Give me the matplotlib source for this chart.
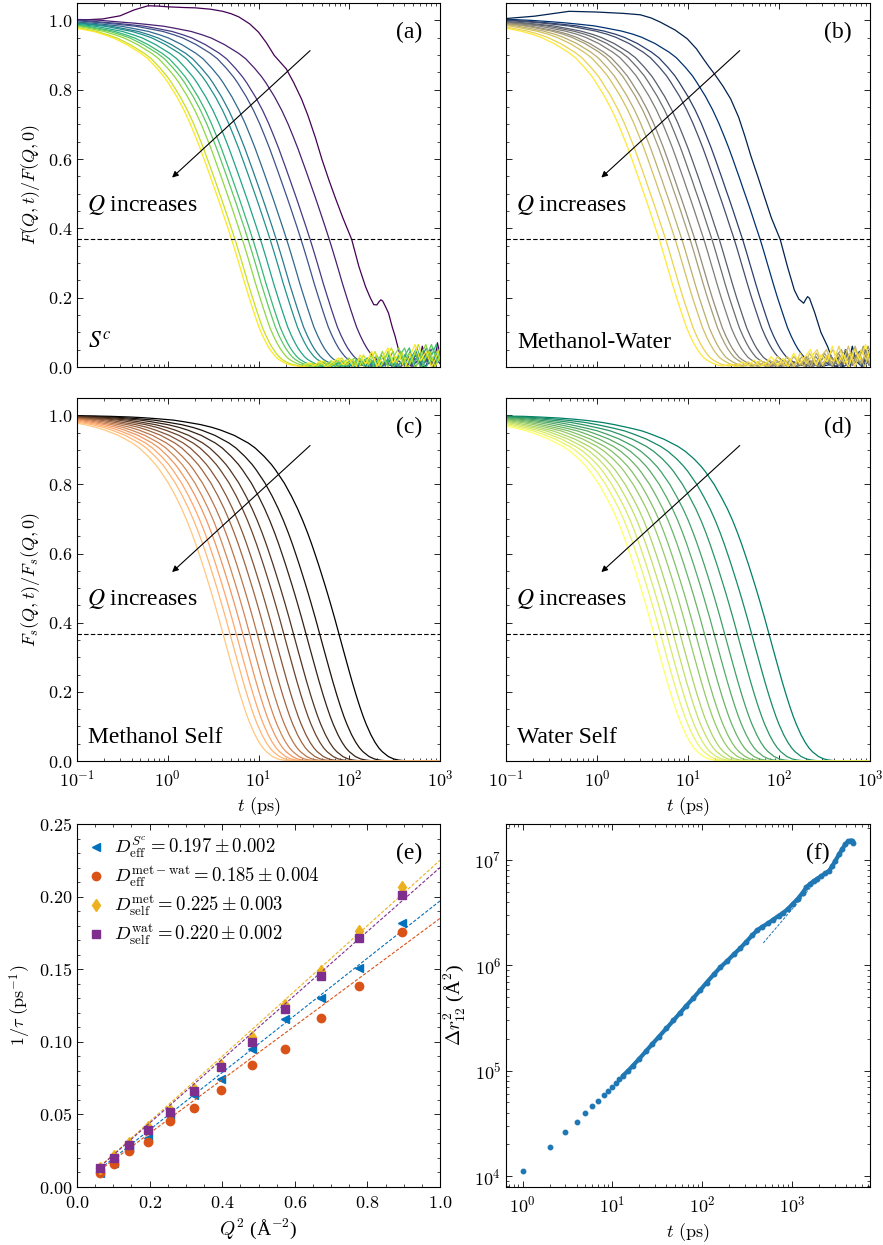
import matplotlib
matplotlib.use("Agg")
import matplotlib.pyplot as plt
from matplotlib.ticker import AutoMinorLocator
import numpy as np

plt.rcParams.update({
    "font.family": "cmr10",
    "mathtext.fontset": "cm",
    "axes.formatter.use_mathtext": True,
    "axes.linewidth": 0.8,
    "xtick.direction": "in",
    "ytick.direction": "in",
    "xtick.top": True,
    "ytick.right": True,
    "xtick.major.size": 4,
    "ytick.major.size": 4,
    "xtick.minor.size": 2,
    "ytick.minor.size": 2,
    "xtick.major.width": 0.6,
    "ytick.major.width": 0.6,
    "xtick.minor.width": 0.5,
    "ytick.minor.width": 0.5,
    "xtick.major.pad": 5.5,
    "xtick.minor.visible": True,
    "ytick.minor.visible": True,
    "xtick.labelsize": 13,
    "ytick.labelsize": 13,
    "axes.labelsize": 13,
})

# Q^2 grid (A^-2); the last one sits just past the plotted range in (e)
q2 = [0.064, 0.101, 0.142, 0.195, 0.255, 0.321, 0.397, 0.482, 0.572, 0.672, 0.778, 0.894, 1.016]

# relaxation rates 1/tau (ps^-1), tau = time where F drops to 1/e
rate_sc = [0.0094, 0.0166, 0.027, 0.034, 0.049, 0.0637, 0.0745, 0.0952, 0.1155, 0.1304, 0.1506, 0.1817, 0.198]
rate_mw = [0.0097, 0.0161, 0.0251, 0.031, 0.0453, 0.0545, 0.0669, 0.0839, 0.0948, 0.1166, 0.1382, 0.1757, 0.207]
rate_met = [0.013, 0.0212, 0.030, 0.0412, 0.0527, 0.0676, 0.0837, 0.1035, 0.1253, 0.149, 0.1762, 0.2063, 0.246]
rate_wat = [0.0129, 0.020, 0.0287, 0.0396, 0.0517, 0.066, 0.0826, 0.100, 0.1224, 0.1454, 0.1718, 0.2008, 0.237]

# fitted diffusion coefficients (legend of panel e)
d_fit = [0.197, 0.185, 0.225, 0.220]
d_err = [0.002, 0.004, 0.003, 0.002]

# decay shapes vs reduced time u = t / tau
u_coll = [0.0005, 0.001, 0.002, 0.003, 0.005, 0.007, 0.01, 0.015, 0.02, 0.03, 0.04, 0.05, 0.07,
          0.1, 0.12, 0.15, 0.18, 0.2, 0.25, 0.3, 0.35, 0.4, 0.45, 0.5, 0.55, 0.6, 0.65, 0.7, 0.75,
          0.8, 0.9, 1.0, 1.1, 1.2, 1.3, 1.4, 1.55, 1.7, 1.85, 2.0, 2.2, 2.4, 2.6, 2.8, 3.05, 3.3,
          3.65, 4.0, 4.5, 5.0,
          6, 7, 8, 9.5, 11, 13, 15, 17, 20, 23, 26, 30, 35, 40, 46, 53, 60, 70, 80, 92,
          105, 120, 140, 160, 185, 210, 240, 280, 320]
f_sc = [1.003, 1.004, 1.002, 1.0, 0.995, 0.992, 0.988, 0.983, 0.977, 0.968, 0.958, 0.949, 0.93,
        0.905, 0.889, 0.862, 0.837, 0.82, 0.779, 0.74, 0.702, 0.665, 0.631, 0.598, 0.568, 0.54,
        0.514, 0.49, 0.467, 0.445, 0.405, 0.368, 0.333, 0.30, 0.269, 0.24, 0.203, 0.17, 0.141,
        0.115, 0.09, 0.07, 0.054, 0.042, 0.03, 0.022, 0.015, 0.01, 0.006, 0.004,
        0.0, 0.012, 0.003, 0.018, 0.0, 0.014, 0.026, 0.006, 0.022, -0.01, 0.035, 0.008, 0.045, 0.0,
        0.028, 0.055, 0.012, 0.04, -0.005, 0.03, 0.065, 0.018, 0.045, 0.0, 0.035, 0.07, 0.015, 0.045, 0.01]
f_mw = [1.002, 1.003, 1.002, 1.0, 0.996, 0.993, 0.989, 0.984, 0.978, 0.969, 0.96, 0.951, 0.933,
        0.908, 0.892, 0.865, 0.84, 0.822, 0.781, 0.742, 0.704, 0.667, 0.633, 0.6, 0.569, 0.541,
        0.514, 0.49, 0.467, 0.445, 0.404, 0.368, 0.332, 0.298, 0.267, 0.238, 0.2, 0.168, 0.139,
        0.113, 0.088, 0.068, 0.052, 0.04, 0.028, 0.021, 0.014, 0.009, 0.005, 0.003,
        0.008, 0.0, 0.015, 0.004, 0.02, 0.002, 0.012, 0.03, 0.005, 0.025, 0.0, 0.04, 0.01, 0.03,
        0.05, 0.005, 0.035, 0.015, 0.06, 0.01, 0.04, 0.0, 0.05, 0.02, 0.065, 0.01, 0.04, 0.075, 0.02]

# slowest Q of the collective functions, read separately (overshoot and late hump)
u_sc0 = [0.0009, 0.0018, 0.0028, 0.004, 0.0057, 0.0075, 0.0094, 0.014, 0.019, 0.028, 0.038, 0.047,
         0.057, 0.075, 0.094, 0.115, 0.14, 0.165, 0.19, 0.23, 0.28, 0.33, 0.4, 0.47, 0.56, 0.66,
         0.8, 1.0, 1.2, 1.42, 1.6, 1.75, 1.89, 2.0, 2.1, 2.2, 2.35, 2.55, 2.8, 3.0, 3.3, 3.6, 3.8,
         4.2, 4.6, 5.0, 5.5, 6.0, 6.6, 7.3, 8.0, 8.8, 9.5, 10.5]
f_sc0 = [1.0, 1.004, 1.013, 1.03, 1.042, 1.041, 1.039, 1.037, 1.036, 1.032, 1.026, 1.019,
         1.01, 0.99, 0.966, 0.935, 0.899, 0.878, 0.86, 0.82, 0.773, 0.725, 0.66, 0.599, 0.54, 0.488,
         0.43, 0.368, 0.29, 0.232, 0.2, 0.18, 0.179, 0.188, 0.194, 0.19, 0.175, 0.155, 0.115, 0.09,
         0.048, 0.02, 0.01, 0.03, 0.0, 0.04, 0.01, 0.06, 0.02, 0.05, 0.0, 0.07, 0.03, 0.05]
u_mw0 = [0.00095, 0.002, 0.0048, 0.0095, 0.019, 0.029, 0.038, 0.048, 0.07, 0.095, 0.12, 0.143,
         0.165, 0.19, 0.235, 0.286, 0.35, 0.41, 0.476, 0.57, 0.667, 0.8, 1.0, 1.2, 1.43, 1.6,
         1.81, 1.92, 2.0, 2.1, 2.38, 2.8, 3.33, 3.7, 4.0, 4.4, 4.8, 5.2, 5.7, 6.2, 6.8, 7.4, 8.1,
         8.8, 9.6, 10.5]
f_mw0 = [1.005, 1.012, 1.026, 1.024, 1.02, 1.016, 1.007, 0.995, 0.972, 0.947, 0.918, 0.889,
         0.866, 0.845, 0.81, 0.773, 0.72, 0.665, 0.609, 0.548, 0.493, 0.43, 0.368, 0.29, 0.222, 0.196,
         0.184, 0.196, 0.203, 0.198, 0.159, 0.1, 0.058, 0.025, 0.01, 0.03, 0.0, 0.05, 0.015, 0.06,
         0.02, 0.045, 0.005, 0.05, 0.025, 0.04]

u_self = [0.0005, 0.001, 0.002, 0.003, 0.005, 0.007, 0.01, 0.015, 0.02, 0.03, 0.04, 0.05, 0.07,
          0.1, 0.12, 0.15, 0.18, 0.2, 0.25, 0.3, 0.35, 0.4, 0.45, 0.5, 0.55, 0.6, 0.65, 0.7, 0.75,
          0.8, 0.9, 1.0, 1.1, 1.2, 1.3, 1.4, 1.55, 1.7, 1.85, 2.0, 2.25, 2.5, 2.75, 3.0, 3.5, 4.0,
          4.5, 5.0, 5.75, 6.5, 10, 30, 300]
f_met = [1.0, 0.999, 0.998, 0.997, 0.995, 0.993, 0.99, 0.986, 0.981, 0.973, 0.965, 0.957, 0.942,
         0.92, 0.905, 0.881, 0.858, 0.842, 0.804, 0.766, 0.73, 0.695, 0.661, 0.628, 0.596, 0.566,
         0.537, 0.51, 0.484, 0.459, 0.412, 0.368, 0.328, 0.292, 0.259, 0.229, 0.19, 0.157, 0.129,
         0.106, 0.076, 0.054, 0.038, 0.027, 0.013, 0.006, 0.003, 0.0015, 0.0005, 0.0, 0.0, 0.0, 0.0]
f_wat = [0.999, 0.998, 0.997, 0.995, 0.992, 0.989, 0.985, 0.979, 0.973, 0.963, 0.955, 0.946, 0.931,
         0.91, 0.896, 0.874, 0.852, 0.837, 0.8, 0.763, 0.729, 0.695, 0.661, 0.628, 0.596, 0.566,
         0.537, 0.51, 0.484, 0.459, 0.412, 0.368, 0.328, 0.292, 0.259, 0.229, 0.19, 0.157, 0.129,
         0.106, 0.076, 0.054, 0.038, 0.027, 0.013, 0.006, 0.003, 0.0015, 0.0005, 0.0, 0.0, 0.0, 0.0]

# pair separation Delta r_12^2 (A^2) vs t (ps)
t_sparse = [1, 2, 3, 4, 5, 6, 7, 8, 9, 10, 11, 12]
r2_sparse = [1.13e4, 1.89e4, 2.6e4, 3.25e4, 3.93e4, 4.6e4, 5.18e4, 5.86e4, 6.46e4, 7.05e4, 7.7e4, 8.26e4]
t_dense = [13, 15, 17, 20, 24, 28, 33, 40, 48, 57, 67, 80, 95, 112, 135, 160, 190, 225, 265, 310,
           360, 410, 470, 540, 620, 710, 800, 900, 1030, 1170, 1320, 1450, 1600, 1750, 1900, 2100,
           2350, 2600, 2800, 3050, 3350, 3650, 3950, 4250, 4500, 4700, 4850]
r2_dense = [8.9e4, 1.0e5, 1.12e5, 1.30e5, 1.55e5, 1.80e5, 2.10e5, 2.52e5, 3.0e5, 3.55e5, 4.15e5, 4.9e5,
            5.8e5, 6.85e5, 8.2e5, 9.6e5, 1.1e6, 1.27e6, 1.45e6, 1.67e6, 1.92e6, 2.15e6, 2.33e6, 2.5e6,
            2.72e6, 2.95e6, 3.15e6, 3.42e6, 3.85e6, 4.3e6, 4.9e6, 5.5e6, 5.95e6, 6.3e6, 6.6e6, 7.0e6,
            7.45e6, 7.9e6, 8.7e6, 9.8e6, 1.13e7, 1.27e7, 1.42e7, 1.5e7, 1.53e7, 1.51e7, 1.45e7]
t_fit = [480, 1900]
r2_fit = [1.63e6, 6.46e6]

W, H = 883, 1245
fig = plt.figure(figsize=(W / 100, H / 100), dpi=100)


def box(x0, x1, ytop, ybot):
    return [x0 / W, (H - ybot) / H, (x1 - x0) / W, (ybot - ytop) / H]


ax_a = fig.add_axes(box(77, 440, 3, 367))
ax_b = fig.add_axes(box(506, 870, 3, 367))
ax_c = fig.add_axes(box(77, 440, 398, 761))
ax_d = fig.add_axes(box(506, 870, 398, 761))
ax_e = fig.add_axes(box(77, 440, 824, 1187))
ax_f = fig.add_axes(box(506, 870, 824, 1187))

serif = "Liberation Serif"


def isf_panel(ax, rates, u, f, cmap, tag, name, first=None):
    n = len(rates)
    for i, r in enumerate(rates):
        uu, ff = (first if (i == 0 and first is not None) else (u, f))
        ax.plot(np.array(uu) / r, ff, color=cmap(i / (n - 1)), lw=0.9)
    ax.axhline(np.exp(-1), color="k", ls=(0, (4, 2)), lw=0.8)
    ax.annotate("", xy=(1.06, 0.541), xytext=(39, 0.918),
                arrowprops=dict(arrowstyle="-|>", color="k", lw=0.8, mutation_scale=9))
    ax.text(0.13, 0.45, "$Q$ increases", fontsize=17, family=serif, math_fontfamily="stix")
    ax.text(0.95, 0.92, tag, transform=ax.transAxes, ha="right", va="center",
            fontsize=17, family=serif)
    ax.text(0.03, 0.066, name, transform=ax.transAxes, ha="left", va="center",
            fontsize=17, family=serif, math_fontfamily="stix")
    ax.set_xscale("log")
    ax.set_xlim(0.1, 1000)
    ax.set_ylim(0, 1.05)
    ax.yaxis.set_minor_locator(AutoMinorLocator(4))


isf_panel(ax_a, rate_sc, u_coll, f_sc, plt.cm.viridis, "(a)", "$S^c$", (u_sc0, f_sc0))
isf_panel(ax_b, rate_mw, u_coll, f_mw, plt.cm.cividis, "(b)", "Methanol-Water", (u_mw0, f_mw0))
isf_panel(ax_c, rate_met, u_self, f_met, plt.cm.copper, "(c)", "Methanol Self")
isf_panel(ax_d, rate_wat, u_self, f_wat, plt.cm.summer, "(d)", "Water Self")

ax_a.tick_params(labelbottom=False)
ax_b.tick_params(labelbottom=False, labelleft=False)
ax_d.tick_params(labelleft=False)
ax_a.set_ylabel("$F(Q,t)/F(Q,0)$")
ax_c.set_ylabel("$F_s(Q,t)/F_s(Q,0)$")
ax_c.set_xlabel("$t$ (ps)")
ax_d.set_xlabel("$t$ (ps)")

# (e) rates vs Q^2 with D Q^2 fits
colors = ["#0072BD", "#D95319", "#EDB120", "#7E2F8E"]
markers = ["<", "o", "d", "s"]
sizes = [6, 6, 6.5, 6]
labels = [r"$D_{\mathrm{eff}}^{S^c} = 0.197 \pm 0.002$",
          r"$D_{\mathrm{eff}}^{\mathrm{met-wat}} = 0.185 \pm 0.004$",
          r"$D_{\mathrm{self}}^{\mathrm{met}} = 0.225 \pm 0.003$",
          r"$D_{\mathrm{self}}^{\mathrm{wat}} = 0.220 \pm 0.002$"]
all_rates = [rate_sc, rate_mw, rate_met, rate_wat]
for rates, d, c, m, ms, lab in zip(all_rates, d_fit, colors, markers, sizes, labels):
    ax_e.plot(q2, rates, ls="none", marker=m, ms=ms, color=c, label=lab)
    xs = np.array([q2[0], 1.0])
    ax_e.plot(xs, d * xs, color=c, ls=(0, (3, 1.6)), lw=0.8)
ax_e.set_xlim(0, 1.0)
ax_e.set_ylim(0, 0.25)
ax_e.set_xticks([0.0, 0.2, 0.4, 0.6, 0.8, 1.0])
ax_e.set_yticks([0.0, 0.05, 0.10, 0.15, 0.20, 0.25])
ax_e.xaxis.set_minor_locator(AutoMinorLocator(4))
ax_e.yaxis.set_minor_locator(AutoMinorLocator(5))
# cmr10 has no usable Angstrom sign, so the plain-text part of these labels uses a serif face
ax_e.set_xlabel("$Q^2$ (Å$^{-2}$)", family=serif, fontsize=14)
ax_e.set_ylabel(r"$1/\tau$ (ps$^{-1}$)")
ax_e.legend(loc="upper left", frameon=False, fontsize=13.5, handlelength=0.8,
            handletextpad=0.6, labelspacing=0.2, borderaxespad=0.3, borderpad=0.3)
ax_e.text(0.95, 0.92, "(e)", transform=ax_e.transAxes, ha="right", va="center",
          fontsize=17, family=serif)

# (f) pair separation growth
blue = "#1f77b4"
ax_f.plot(t_sparse, r2_sparse, ls="none", marker="o", ms=3.2, color=blue)
ax_f.plot(t_dense, r2_dense, ls="-", lw=3.0, marker="o", ms=3.2, color=blue,
          solid_capstyle="round")
ax_f.plot(t_fit, r2_fit, color=blue, ls=(0, (3, 1.5)), lw=0.7)
ax_f.set_xscale("log")
ax_f.set_yscale("log")
ax_f.set_xlabel("$t$ (ps)")
ax_f.set_ylabel(r"$\Delta r_{12}^2$ (Å$^2$)", family=serif, fontsize=14)
ax_f.text(0.89, 0.92, "(f)", transform=ax_f.transAxes, ha="right", va="center",
          fontsize=17, family=serif)

fig.savefig("out.png", dpi=100)
